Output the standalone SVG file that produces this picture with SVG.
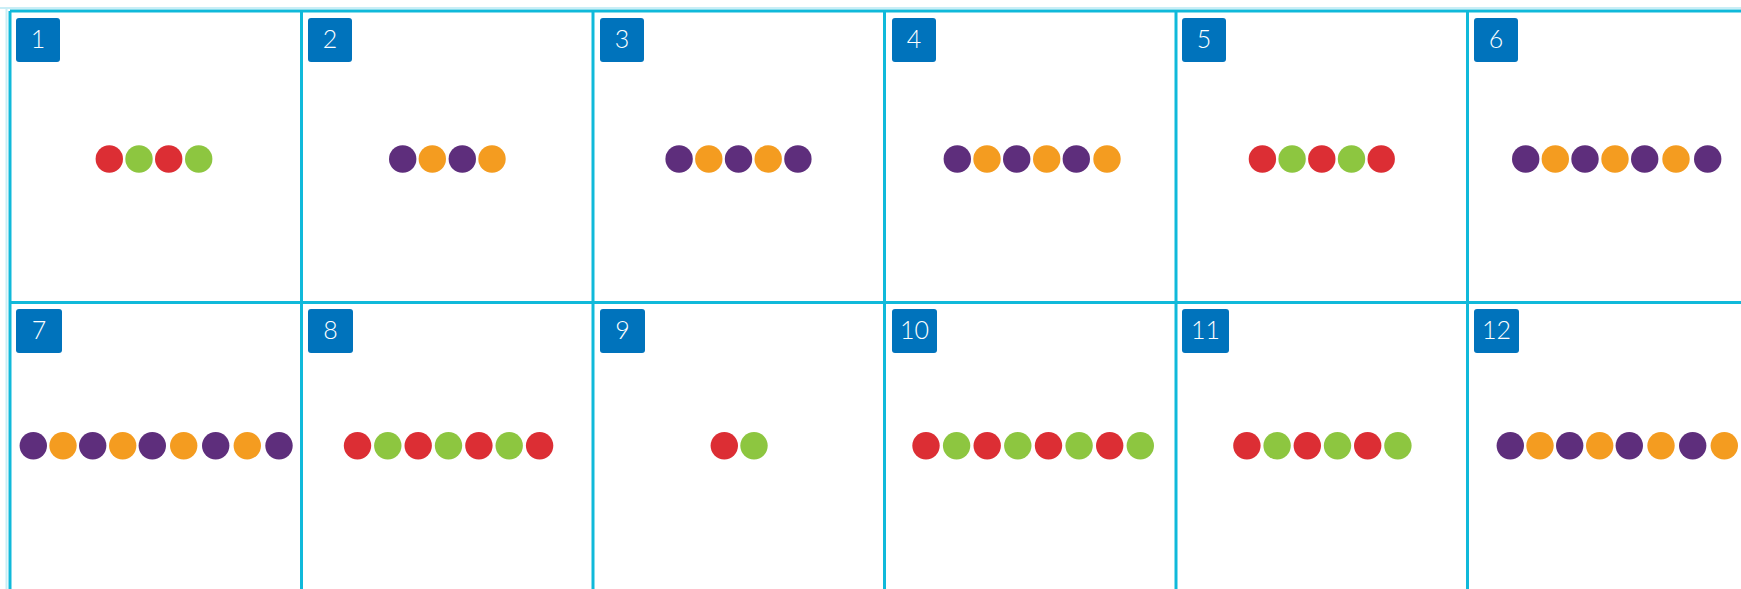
<svg xmlns="http://www.w3.org/2000/svg" width="1741" height="589" viewBox="0 0 1741 589">
<style>
.grid{stroke:#10b9da;stroke-width:3;fill:none}
.faint{stroke:#c9eef6;stroke-width:2;fill:none}
.badge{fill:#0073bc}
.num{font-family:Lato,"Open Sans","Liberation Sans",sans-serif;font-weight:300;font-size:25px;fill:#ffffff;text-anchor:middle}
.r{fill:#dc2e34}.g{fill:#8dc640}.p{fill:#5e2e7c}.o{fill:#f49c20}
</style>
<rect width="1741" height="589" fill="#ffffff"/>
<g id="grid">
<line class="faint" x1="0" y1="8" x2="1741" y2="8"/>
<line class="faint" x1="6.5" y1="8" x2="6.5" y2="589"/>
<line class="grid" x1="10" y1="11" x2="1741" y2="11"/>
<line class="grid" x1="10" y1="302.5" x2="1741" y2="302.5"/>
<line class="grid" x1="10" y1="11" x2="10" y2="589"/>
<line class="grid" x1="301.5" y1="11" x2="301.5" y2="589"/>
<line class="grid" x1="593" y1="11" x2="593" y2="589"/>
<line class="grid" x1="884.5" y1="11" x2="884.5" y2="589"/>
<line class="grid" x1="1176" y1="11" x2="1176" y2="589"/>
<line class="grid" x1="1467.5" y1="11" x2="1467.5" y2="589"/>
</g>
<g id="cell1">
<rect class="badge" x="16" y="18" width="44" height="44" rx="3"/><text class="num" x="38" y="48">1</text>
<circle class="r" cx="109.3" cy="159" r="13.7"/><circle class="g" cx="139" cy="159" r="13.7"/><circle class="r" cx="168.7" cy="159" r="13.7"/><circle class="g" cx="198.7" cy="159" r="13.7"/>
</g>
<g id="cell2">
<rect class="badge" x="308" y="18" width="44" height="44" rx="3"/><text class="num" x="330" y="48">2</text>
<circle class="p" cx="402.7" cy="159" r="13.7"/><circle class="o" cx="432.3" cy="159" r="13.7"/><circle class="p" cx="462.3" cy="159" r="13.7"/><circle class="o" cx="492" cy="159" r="13.7"/>
</g>
<g id="cell3">
<rect class="badge" x="600" y="18" width="44" height="44" rx="3"/><text class="num" x="622" y="48">3</text>
<circle class="p" cx="679.1" cy="159" r="13.7"/><circle class="o" cx="708.8" cy="159" r="13.7"/><circle class="p" cx="738.5" cy="159" r="13.7"/><circle class="o" cx="768.2" cy="159" r="13.7"/><circle class="p" cx="797.9" cy="159" r="13.7"/>
</g>
<g id="cell4">
<rect class="badge" x="892" y="18" width="44" height="44" rx="3"/><text class="num" x="914" y="48">4</text>
<circle class="p" cx="957.3" cy="159" r="13.7"/><circle class="o" cx="987" cy="159" r="13.7"/><circle class="p" cx="1016.7" cy="159" r="13.7"/><circle class="o" cx="1046.7" cy="159" r="13.7"/><circle class="p" cx="1076.3" cy="159" r="13.7"/><circle class="o" cx="1107" cy="159" r="13.7"/>
</g>
<g id="cell5">
<rect class="badge" x="1182" y="18" width="44" height="44" rx="3"/><text class="num" x="1204" y="48">5</text>
<circle class="r" cx="1262.4" cy="159" r="13.7"/><circle class="g" cx="1292.1" cy="159" r="13.7"/><circle class="r" cx="1321.8" cy="159" r="13.7"/><circle class="g" cx="1351.5" cy="159" r="13.7"/><circle class="r" cx="1381.2" cy="159" r="13.7"/>
</g>
<g id="cell6">
<rect class="badge" x="1474" y="18" width="44" height="44" rx="3"/><text class="num" x="1496" y="48">6</text>
<circle class="p" cx="1525.7" cy="159" r="13.7"/><circle class="o" cx="1555.3" cy="159" r="13.7"/><circle class="p" cx="1585" cy="159" r="13.7"/><circle class="o" cx="1615" cy="159" r="13.7"/><circle class="p" cx="1644.7" cy="159" r="13.7"/><circle class="o" cx="1676" cy="159" r="13.7"/><circle class="p" cx="1707.7" cy="159" r="13.7"/>
</g>
<g id="cell7">
<rect class="badge" x="16" y="309" width="46" height="44" rx="3"/><text class="num" x="39" y="339">7</text>
<circle class="p" cx="33.3" cy="445.7" r="13.7"/><circle class="o" cx="63" cy="445.7" r="13.7"/><circle class="p" cx="92.7" cy="445.7" r="13.7"/><circle class="o" cx="122.7" cy="445.7" r="13.7"/><circle class="p" cx="152.3" cy="445.7" r="13.7"/><circle class="o" cx="183.7" cy="445.7" r="13.7"/><circle class="p" cx="215.7" cy="445.7" r="13.7"/><circle class="o" cx="247.3" cy="445.7" r="13.7"/><circle class="p" cx="279" cy="445.7" r="13.7"/>
</g>
<g id="cell8">
<rect class="badge" x="308" y="309" width="45" height="44" rx="3"/><text class="num" x="330.5" y="339">8</text>
<circle class="r" cx="357.5" cy="445.7" r="13.7"/><circle class="g" cx="387.8" cy="445.7" r="13.7"/><circle class="r" cx="418.2" cy="445.7" r="13.7"/><circle class="g" cx="448.5" cy="445.7" r="13.7"/><circle class="r" cx="478.9" cy="445.7" r="13.7"/><circle class="g" cx="509.2" cy="445.7" r="13.7"/><circle class="r" cx="539.6" cy="445.7" r="13.7"/>
</g>
<g id="cell9">
<rect class="badge" x="600" y="309" width="45" height="44" rx="3"/><text class="num" x="622.5" y="339">9</text>
<circle class="r" cx="724.3" cy="445.7" r="13.7"/><circle class="g" cx="754" cy="445.7" r="13.7"/>
</g>
<g id="cell10">
<rect class="badge" x="892" y="309" width="45" height="44" rx="3"/><text class="num" x="914.5" y="339">10</text>
<circle class="r" cx="926" cy="445.7" r="13.7"/><circle class="g" cx="956.6" cy="445.7" r="13.7"/><circle class="r" cx="987.2" cy="445.7" r="13.7"/><circle class="g" cx="1017.8" cy="445.7" r="13.7"/><circle class="r" cx="1048.5" cy="445.7" r="13.7"/><circle class="g" cx="1079.1" cy="445.7" r="13.7"/><circle class="r" cx="1109.7" cy="445.7" r="13.7"/><circle class="g" cx="1140.3" cy="445.7" r="13.7"/>
</g>
<g id="cell11">
<rect class="badge" x="1182" y="309" width="47" height="44" rx="3"/><text class="num" x="1205.5" y="339">11</text>
<circle class="r" cx="1246.9" cy="445.7" r="13.7"/><circle class="g" cx="1277.1" cy="445.7" r="13.7"/><circle class="r" cx="1307.3" cy="445.7" r="13.7"/><circle class="g" cx="1337.5" cy="445.7" r="13.7"/><circle class="r" cx="1367.7" cy="445.7" r="13.7"/><circle class="g" cx="1397.9" cy="445.7" r="13.7"/>
</g>
<g id="cell12">
<rect class="badge" x="1474" y="309" width="45" height="44" rx="3"/><text class="num" x="1496.5" y="339">12</text>
<circle class="p" cx="1510.3" cy="445.7" r="13.7"/><circle class="o" cx="1540" cy="445.7" r="13.7"/><circle class="p" cx="1569.7" cy="445.7" r="13.7"/><circle class="o" cx="1599.7" cy="445.7" r="13.7"/><circle class="p" cx="1629.3" cy="445.7" r="13.7"/><circle class="o" cx="1661" cy="445.7" r="13.7"/><circle class="p" cx="1692.7" cy="445.7" r="13.7"/><circle class="o" cx="1724.3" cy="445.7" r="13.7"/>
</g>
</svg>
